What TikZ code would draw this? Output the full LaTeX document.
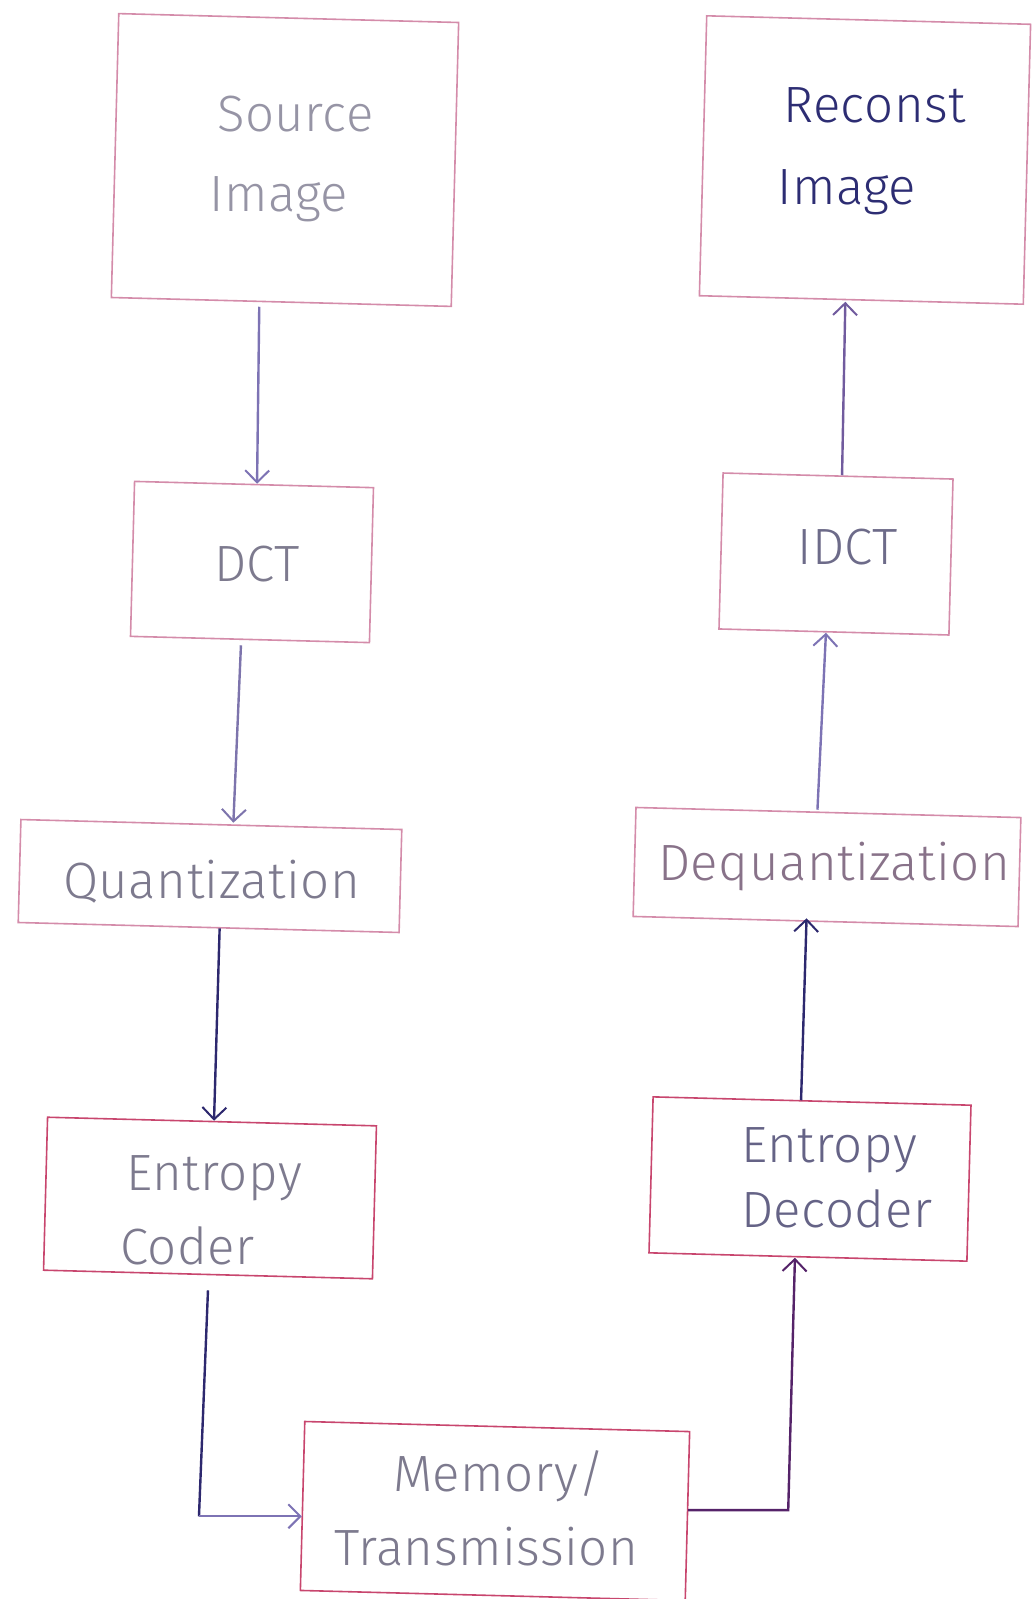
\documentclass[tikz,border=0pt]{standalone}
\usepackage{fontspec}
\newfontfamily\labelfont{Fira Sans Light}[LetterSpace=1]
\usetikzlibrary{arrows.meta,calc}

\definecolor{boxpink}{RGB}{212,140,170}
\definecolor{boxred}{RGB}{200,70,110}
\definecolor{txtgray}{RGB}{125,122,142}
\definecolor{txtlight}{RGB}{150,148,165}
\definecolor{txtnavy}{RGB}{45,45,115}
\definecolor{arrnavy}{RGB}{45,40,110}
\definecolor{arrlav}{RGB}{125,115,180}
\definecolor{arrpurple}{RGB}{85,35,105}

\tikzset{
  blockbox/.style={draw=boxpink, line width=1.6pt, rectangle, inner sep=0pt, rotate=-1.5},
  darkbox/.style={blockbox, draw=boxred},
  lbl/.style={font=\labelfont\fontsize{51}{60}\selectfont, anchor=base west, inner sep=0pt},
  flow/.style={line width=2.4pt, -{Straight Barb[length=12pt,width=24pt,line width=2pt]}}
}

\begin{document}
\begin{tikzpicture}[x=1pt,y=-1pt]
\useasboundingbox (0,0) rectangle (1035,1599);

% encoder column
\node[blockbox, minimum width=340pt, minimum height=284pt] (src) at (285,160) {};
\node[blockbox, minimum width=239pt, minimum height=155pt] (dct) at (252,562) {};
\node[blockbox, minimum width=381pt, minimum height=103pt] (quant) at (210,876) {};
\node[darkbox, minimum width=329pt, minimum height=153pt] (ec) at (210,1198) {};

% channel
\node[darkbox, minimum width=385pt, minimum height=169pt] (mem) at (495,1511) {};

% decoder column
\node[blockbox, minimum width=324pt, minimum height=280pt] (rec) at (865,160) {};
\node[blockbox, minimum width=230pt, minimum height=156pt] (idct) at (836,554) {};
\node[blockbox, minimum width=385pt, minimum height=109pt] (deq) at (827,867) {};
\node[darkbox, minimum width=318pt, minimum height=156pt] (ed) at (810,1179) {};

% labels
\node[lbl, text=txtlight] (srcA) at (217,131) {Source};
\node[lbl, text=txtlight] (srcB) at (209,211) {Image};
\node[lbl, text=txtgray] (dctL) at (214,581) {DCT};
\node[lbl, text=txtgray] (quantL) at (63,898) {Quantization};
\node[lbl, text=txtgray] (ecA) at (126,1190) {Entropy};
\node[lbl, text=txtgray] (ecB) at (120,1264) {Coder};
\node[lbl, text=txtgray] (memA) at (393,1491) {Memory/};
\node[lbl, text=txtgray] (memB) at (334,1565) {Transmission};
\node[lbl, text=txtnavy] (recA) at (783,122) {Reconst};
\node[lbl, text=txtnavy] (recB) at (777,204) {Image};
\node[lbl, text=txtgray!80!txtnavy] (idctL) at (797,564) {IDCT};
\node[lbl, text=txtgray!85!boxred] (deqL) at (658,880) {Dequantization};
\node[lbl, text=txtgray!70!txtnavy] (edA) at (741,1162) {Entropy};
\node[lbl, text=txtgray!70!txtnavy] (edB) at (741,1227) {Decoder};

% connectors
\draw[flow, arrlav] ($(src.south)+(-22,4)$) -- ($(dct.north)+(3,0)$);
\draw[flow, arrlav!80!txtgray] ($(dct.south)+(-9,5)$) -- ($(quant.north)+(22,-1)$);
\draw[flow, arrnavy] ($(quant.south)+(11,0)$) -- ($(ec.north)+(2,0)$);
\draw[line width=2.4pt, arrnavy] ($(ec.south)+(0,15)$) -- ++(-9,226) coordinate (ecbend);
\draw[flow, arrlav] (ecbend) -- (ecbend -| mem.west);
\draw[flow, arrpurple] ($(mem.east)+(0,-6)$) -- ++(100,0) -- ($(ed.south)+(-13,0)$);
\draw[flow, arrnavy] ($(ed.north)+(-11,0)$) -- ($(deq.south)+(-19,-4)$);
\draw[flow, arrlav] ($(deq.north)+(-11,-2)$) -- ($(idct.south)+(-8,0)$);
\draw[flow, arrlav!70!arrpurple] ($(idct.north)+(4,0)$) -- ($(rec.south)+(-16,1)$);
\end{tikzpicture}
\end{document}
